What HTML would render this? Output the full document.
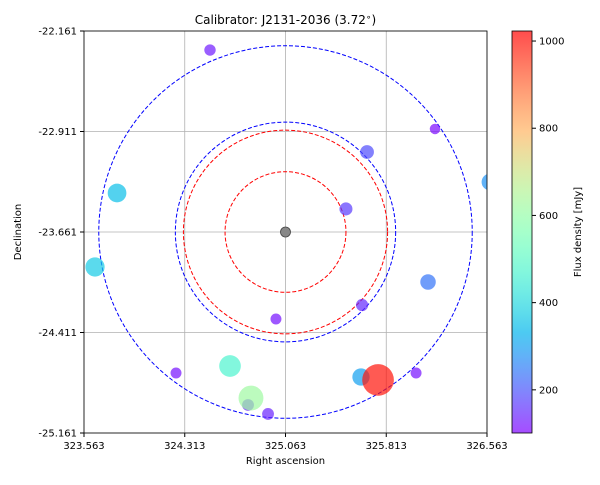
<!DOCTYPE html>
<html><head><meta charset="utf-8"><style>
body{margin:0;background:#fff;}
svg text{font-family:"DejaVu Sans","Liberation Sans",sans-serif;fill:#000;}
</style></head><body>
<svg id="c" width="600" height="480" xmlns="http://www.w3.org/2000/svg"></svg>
<script>
const raVals=[324.501,326.176,325.670,323.809,326.585,325.513,323.645,326.124,325.633,324.992,324.248,324.650,325.625,325.752,326.035,324.784,324.806,324.933];
const decVals=[-22.303,-22.892,-23.064,-23.370,-23.288,-23.489,-23.922,-24.034,-24.206,-24.310,-24.713,-24.661,-24.743,-24.765,-24.713,-24.952,-24.900,-25.019];
const fluxVals=[130,110,190,350,280,170,370,240,150,120,120,470,300,1000,120,140,620,140];
const xTicks=[323.563,324.313,325.063,325.813,326.563];
const yTicks=[-22.161,-22.911,-23.661,-24.411,-25.161];
const cbTicks=[200,400,600,800,1000];
const circleRadii=[0.45,0.76,0.82,1.39];
const circleColors=['red','red','blue','blue'];
const center=[325.063,-23.661];
const NS='http://www.w3.org/2000/svg';
const svg=document.getElementById('c');
const L=84,R=487,T=31,B=433;
const xmin=323.563,xmax=326.563,ymin=-25.161,ymax=-22.161;
const fmin=101,fmax=1023;
const X=v=>L+(v-xmin)/(xmax-xmin)*(R-L);
const Y=v=>B-(v-ymin)/(ymax-ymin)*(B-T);
function mk(t,a,p){const e=document.createElementNS(NS,t);for(const k in a)e.setAttribute(k,a[k]);(p||svg).appendChild(e);return e;}
function cmap(x){x=Math.max(0,Math.min(1,x));const r=Math.min(1,Math.abs(2*x-0.5)),g=Math.sin(Math.PI*x),b=Math.cos(Math.PI*x/2);return `rgb(${Math.round(r*255)},${Math.round(g*255)},${Math.round(Math.max(0,b)*255)})`;}
const defs=mk('defs',{});const cp=mk('clipPath',{id:'pc'},defs);mk('rect',{x:L,y:T,width:R-L,height:B-T},cp);
xTicks.forEach((t,i)=>{const x=X(t);let g=mk('line',{x1:x,x2:x,y1:T,y2:B,stroke:'#b0b0b0','stroke-width':0.8});

mk('line',{x1:x,x2:x,y1:B,y2:B+4,stroke:'#000'});
let tx=mk('text',{x:x,y:B+16,'text-anchor':'middle','font-size':10});tx.textContent=t.toFixed(3);
});
yTicks.forEach(t=>{const y=Y(t);let g=mk('line',{x1:L,x2:R,y1:y,y2:y,stroke:'#b0b0b0','stroke-width':0.8});

mk('line',{x1:L-4,x2:L,y1:y,y2:y,stroke:'#000'});
let tx=mk('text',{x:L-7,y:y+3.5,'text-anchor':'end','font-size':10});tx.textContent=t.toFixed(3);
});
const pg=mk('g',{'clip-path':'url(#pc)'});
const cx=X(center[0]),cy=Y(center[1]);
circleRadii.forEach((r,i)=>{const rx=X(center[0]+r)-cx,ry=cy-Y(center[1]+r);
let e=mk('ellipse',{cx:cx,cy:cy,rx:rx,ry:ry,fill:'none',stroke:circleColors[i],'stroke-dasharray':'4,2','stroke-width':1},pg);
});
raVals.forEach((v,i)=>{const f=fluxVals[i];
let c=mk('circle',{cx:X(v),cy:Y(decVals[i]),r:0.5*Math.sqrt(f),fill:cmap((f-fmin)/(fmax-fmin)),'fill-opacity':0.7},pg);
});
let cc=mk('circle',{cx:cx,cy:cy,r:5,fill:'#888',stroke:'#444','stroke-width':0.8},pg);

let fr=mk('rect',{x:L,y:T,width:R-L,height:B-T,fill:'none',stroke:'#000','stroke-width':0.8});

let ti=mk('text',{x:(L+R)/2,y:24,'text-anchor':'middle','font-size':12});
ti.innerHTML='Calibrator: J2131-2036 (3.72<tspan dy="-4" font-size="9">∘</tspan><tspan dy="4">)</tspan>';

let xl=mk('text',{x:(L+R)/2,y:464,'text-anchor':'middle','font-size':10});xl.textContent='Right ascension';

let yl=mk('text',{x:21,y:(T+B)/2,'text-anchor':'middle','font-size':10,transform:`rotate(-90 21 ${(T+B)/2})`});yl.textContent='Declination';

const CL=512,CW=20;
const grad=mk('linearGradient',{id:'cg',x1:0,y1:1,x2:0,y2:0},defs);
for(let i=0;i<=20;i++)mk('stop',{offset:i/20,'stop-color':cmap(i/20),'stop-opacity':0.7},grad);
let cb=mk('rect',{x:CL,y:T,width:CW,height:B-T,fill:'url(#cg)',stroke:'#000','stroke-width':0.8});

const CY=v=>B-(v-fmin)/(fmax-fmin)*(B-T);
cbTicks.forEach(t=>{const y=CY(t);mk('line',{x1:CL+CW,x2:CL+CW+4,y1:y,y2:y,stroke:'#000'});
let tx=mk('text',{x:CL+CW+7,y:y+3.5,'font-size':10});tx.textContent=t;
});
let cl=mk('text',{x:581,y:(T+B)/2,'text-anchor':'middle','font-size':10,transform:`rotate(-90 581 ${(T+B)/2})`});cl.textContent='Flux density [mJy]';

</script>
</body></html>
